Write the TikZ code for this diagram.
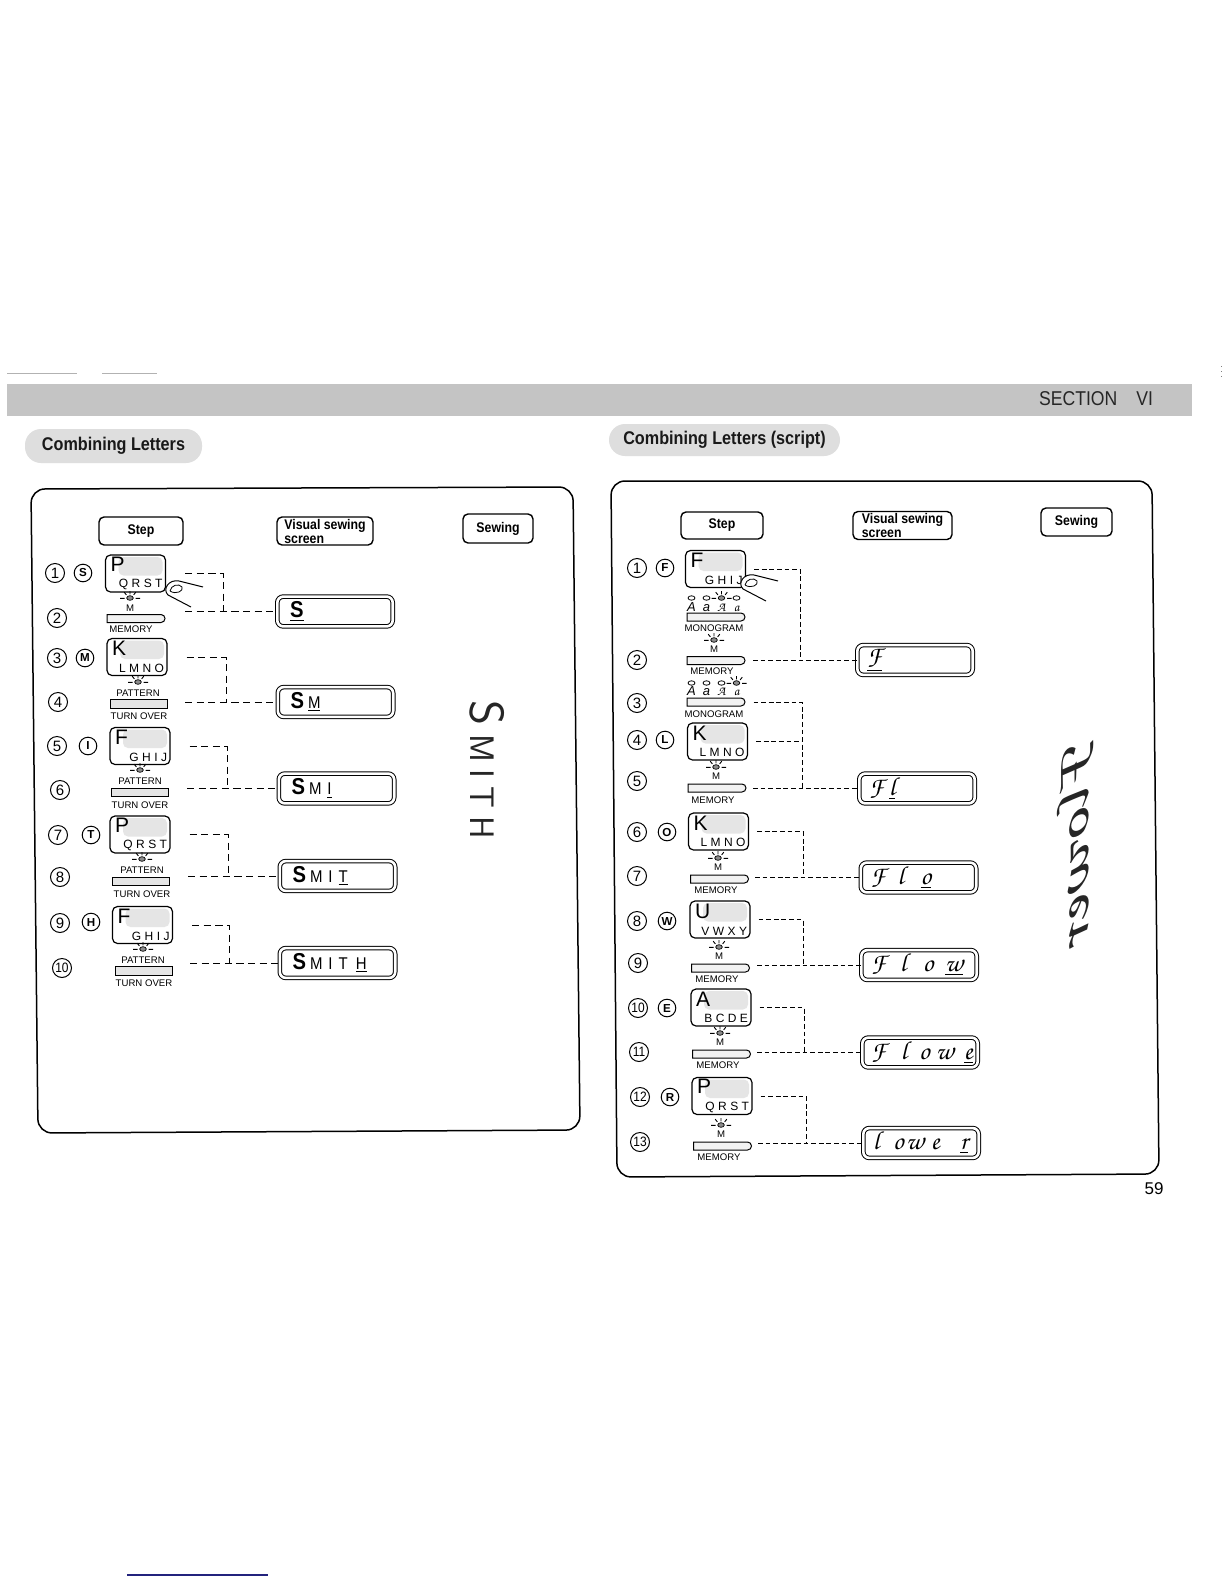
\documentclass[tikz,border=0pt]{standalone}
\usepackage{fontspec}
\setmainfont{Liberation Sans}
\newfontfamily\cond[FakeStretch=0.88]{Liberation Sans}
\newfontfamily\chorus{texgyrechorus-mediumitalic.otf}
\usetikzlibrary{shapes.misc}
\definecolor{navy}{RGB}{35,35,125}
\newcommand\gapk{\kern1.7pt\relax}
\newcommand\keytxt[2]{\parbox[c][15.5pt][s]{27pt}{\fontsize{10.5}{10}\selectfont\hspace*{1pt}#1\par\vfill\raggedleft\fontsize{6}{6}\selectfont #2\par}}
\newcommand\cellx[2]{\makebox[#1][l]{#2}}
\newcommand\cellc[1]{\makebox[7.5pt]{#1}}
\newcommand\bS{{\cond\bfseries\fontsize{11.5}{11.5}\selectfont S}}
\newcommand\scrl[1]{{\cond\fontsize{8.5}{8.5}\selectfont #1}}
\newcommand\scrp[1]{{\chorus\fontsize{13}{13}\selectfont #1}}
\tikzset{
  panel/.style={draw, line width=0.75pt, rounded corners=7pt},
  hdr/.style={draw, line width=0.7pt, rounded corners=2.5pt, inner sep=0pt, align=left,
    font=\cond\bfseries\fontsize{7}{7}\selectfont},
  numc/.style={draw, circle, line width=0.5pt, inner sep=0pt, minimum size=9.5pt,
    font=\fontsize{7.5}{7.5}\selectfont},
  numcc/.style={numc, font=\cond\fontsize{6.8}{6.8}\selectfont},
  letc/.style={draw, circle, line width=0.5pt, inner sep=0pt, minimum size=8.8pt,
    font=\bfseries\fontsize{5.8}{5.8}\selectfont},
  keybox/.style={draw, line width=0.6pt, rounded corners=2.5pt, minimum width=30pt,
    minimum height=18.5pt, inner sep=0pt,
    path picture={\fill[black!10] ([xshift=6.5pt,yshift=-1pt]path picture bounding box.north west)
      rectangle ([xshift=-1.5pt,yshift=-1pt]path picture bounding box.east);}},
  membar/.style={draw, line width=0.5pt, rounded rectangle, rounded rectangle left arc=none,
    minimum width=29pt, minimum height=4pt, inner sep=0pt, fill=black!5},
  patbar/.style={draw, line width=0.5pt, rectangle, minimum width=28.5pt, minimum height=4.3pt,
    inner sep=0pt, fill=black!10},
  lbl/.style={inner sep=0pt, font=\fontsize{4.8}{4.8}\selectfont},
  screen/.style={draw, double, double distance=1.3pt, line width=0.5pt, rounded corners=3pt,
    minimum width=57.7pt, minimum height=14.9pt, inner sep=0pt, text width=55pt, align=left},
  connL/.style={dash pattern=on 3.6pt off 2.2pt, line width=0.5pt},
  connR/.style={dash pattern=on 2.4pt off 1.4pt, line width=0.5pt},
  pill/.style={fill=black!13, rounded corners=8pt, inner sep=0pt, text=black!90,
    font=\cond\bfseries\fontsize{9.2}{9.2}\selectfont},
  lamp/.pic={\draw[fill=black!45, line width=0.35pt] (0,0) ellipse (3.3 and 2.3);
    \draw[line width=0.45pt] (-10,0.3)--(-5.5,0.3) (5.5,0.3)--(10,0.3) (0,-3.6)--(0,-6.8)
      (-3.6,-3.1)--(-5.8,-5.8) (3.6,-3.1)--(5.8,-5.8);},
  oval/.pic={\draw[line width=0.4pt] (0,0) ellipse (3.5 and 2.2);},
  finger/.pic={\draw[line width=0.5pt, fill=white] (37,-1) -- (13,-7) .. controls (3,-9) and (-4,1) .. (2,7) -- (25,19);
    \draw[line width=0.4pt] (4,3) .. controls (5,-3) and (13,-5) .. (16,-1) .. controls (18,3) and (10,7) .. (4,3);}
}
\begin{document}
\begin{tikzpicture}[x=0.5pt,y=-0.5pt]
\fill[white] (0,0) rectangle (1224,1584);
\useasboundingbox (0,0) rectangle (1224,1584);

% ---------- header band ----------
\draw[black!30, line width=0.3pt] (7,373) -- (77,373) (102,373) -- (157,373);
\draw[black!50, line width=0.5pt, dotted] (1221,366) -- (1221,378);
\fill[black!23] (7,384) rectangle (1192,416);
\node[inner sep=0pt, text=black!85, font=\cond\fontsize{10}{10}\selectfont] (sect) at (1096,398.5) {SECTION\hspace{9.5pt}VI};
\node[pill, minimum width=88.5pt, minimum height=17pt] (pillL) at (113.5,446) {Combining Letters};
\node[pill, minimum width=115.5pt, minimum height=16pt] (pillR) at (724.5,440) {Combining Letters (script)};

% ================= LEFT PANEL =================
\draw[panel] (300,488) -- (573,487) -- (580,1130) -- (38,1133) -- (31,489) -- cycle;
\node[hdr, minimum width=42pt, minimum height=14pt] (stepL) at (141,531) {Step};
\node[hdr, minimum width=48pt, minimum height=14pt] (visL) at (325,531) {Visual sewing\\screen};
\node[hdr, minimum width=35pt, minimum height=14.5pt] (sewL) at (498,528.5) {Sewing};

\node[numc] (n1) at (55,573) {1};   \node[letc] (c1) at (83,573) {S};
\node[numc] (n2) at (57,618) {2};
\node[numc] (n3) at (57,658) {3};   \node[letc] (c3) at (85,658) {M};
\node[numc] (n4) at (58,702) {4};
\node[numc] (n5) at (57,746) {5};   \node[letc] (c5) at (88,746) {I};
\node[numc] (n6) at (60,790) {6};
\node[numc] (n7) at (58,835) {7};   \node[letc] (c7) at (91,835) {T};
\node[numc] (n8) at (60,877) {8};
\node[numc] (n9) at (60,923) {9};   \node[letc] (c9) at (91,922) {H};
\node[numcc] (n10) at (62,968) {10};

\node[keybox] (kL1) at (135.5,573.5) {\keytxt{P}{Q\gapk R\gapk S\gapk T}};
\node[keybox] (kL3) at (137,657) {\keytxt{K}{L\gapk M\gapk N\gapk O}};
\node[keybox] (kL5) at (140,746) {\keytxt{F}{G\gapk H\gapk I\gapk J}};
\node[keybox] (kL7) at (140,834.5) {\keytxt{P}{Q\gapk R\gapk S\gapk T}};
\node[keybox] (kL9) at (142.5,925) {\keytxt{F}{G\gapk H\gapk I\gapk J}};
\pic at (166,588) {finger};

\pic at (130,598) {lamp};
\node[lbl] (tM2) at (130,608) {M};
\node[membar] (bL2) at (136,618.5) {};
\node[lbl] (tMem2) at (131,629) {MEMORY};

\pic at (138,682) {lamp};
\node[lbl] (tP4) at (138,693) {PATTERN};
\node[patbar] (bL4) at (138.5,704) {};
\node[lbl] (tT4) at (139,716) {TURN OVER};

\pic at (140,770) {lamp};
\node[lbl] (tP6) at (140,781) {PATTERN};
\node[patbar] (bL6) at (139.5,792.5) {};
\node[lbl] (tT6) at (140,805) {TURN OVER};

\pic at (142,859) {lamp};
\node[lbl] (tP8) at (142,870) {PATTERN};
\node[patbar] (bL8) at (140.5,881.5) {};
\node[lbl] (tT8) at (142,894) {TURN OVER};

\pic at (143,949) {lamp};
\node[lbl] (tP10) at (143,960) {PATTERN};
\node[patbar] (bL10) at (143.5,971) {};
\node[lbl] (tT10) at (144,983) {TURN OVER};

\node[screen] (sL1) at (335,611.5) {\hspace*{5pt}\underline{\bS}};
\node[screen] (sL2) at (335.5,702) {\hspace*{5pt}\bS\kern2pt\underline{\scrl{M}}};
\node[screen] (sL3) at (336.5,788.5) {\hspace*{5pt}\bS\kern2pt\scrl{M}\kern3pt\underline{\scrl{I}}};
\node[screen] (sL4) at (337.5,876) {\hspace*{5pt}\bS\kern2pt\scrl{M}\kern3pt\scrl{I}\kern3pt\underline{\scrl{T}}};
\node[screen] (sL5) at (337.5,963) {\hspace*{5pt}\bS\kern2pt\scrl{M}\kern3pt\scrl{I}\kern3pt\scrl{T}\kern4pt\underline{\scrl{H}}};

\coordinate (jL1) at (223,0); \coordinate (hL1) at (185,0);
\coordinate (jL2) at (226,0); \coordinate (hL2) at (185,0);
\coordinate (jL3) at (227,0); \coordinate (hL3) at (187,0);
\coordinate (jL4) at (228,0); \coordinate (hL4) at (188,0);
\coordinate (jL5) at (229,0); \coordinate (hL5) at (190,0);
\draw[connL] ([xshift=9.5pt]kL1.east) -| (jL1 |- sL1.west);
\draw[connL] (hL1 |- sL1.west) -- (sL1.west);
\draw[connL] ([xshift=9.5pt]kL3.east) -| (jL2 |- sL2.west);
\draw[connL] (hL2 |- sL2.west) -- (sL2.west);
\draw[connL] ([xshift=9.5pt]kL5.east) -| (jL3 |- sL3.west);
\draw[connL] (hL3 |- sL3.west) -- (sL3.west);
\draw[connL] ([xshift=9.5pt]kL7.east) -| (jL4 |- sL4.west);
\draw[connL] (hL4 |- sL4.west) -- (sL4.west);
\draw[connL] ([xshift=9.5pt]kL9.east) -| (jL5 |- sL5.west);
\draw[connL] (hL5 |- sL5.west) -- (sL5.west);

\node[rotate=-90, inner sep=0pt, text=black!85, font=\sffamily] (sewS) at (487,770)
  {{\fontsize{24}{24}\selectfont S}\kern4pt{\fontsize{17}{17}\selectfont M\kern4pt I\kern4pt T\kern4pt H}};

% ================= RIGHT PANEL =================
\draw[panel] (880,481) -- (1152,481) -- (1159,1174) -- (617,1177) -- (611,481) -- cycle;
\node[hdr, minimum width=41pt, minimum height=13.5pt] (stepR) at (722,525.5) {Step};
\node[hdr, minimum width=49.5pt, minimum height=14pt] (visR) at (902.5,525.5) {Visual sewing\\screen};
\node[hdr, minimum width=35.5pt, minimum height=14pt] (sewR) at (1076.5,522) {Sewing};

\node[numc] (m1) at (637,568) {1};   \node[letc] (d1) at (665,568) {F};
\node[numc] (m2) at (637,660) {2};
\node[numc] (m3) at (637,703) {3};
\node[numc] (m4) at (637,740) {4};   \node[letc] (d4) at (665,740) {L};
\node[numc] (m5) at (637,781) {5};
\node[numc] (m6) at (637,832) {6};   \node[letc] (d6) at (667,832) {O};
\node[numc] (m7) at (637,876) {7};
\node[numc] (m8) at (637,921) {8};   \node[letc] (d8) at (667,921) {W};
\node[numc] (m9) at (638,963) {9};
\node[numcc] (m10) at (638,1008) {10}; \node[letc] (d10) at (667,1008) {E};
\node[numcc] (m11) at (639,1052) {11};
\node[numcc] (m12) at (640,1097) {12}; \node[letc] (d12) at (670,1097) {R};
\node[numcc] (m13) at (640,1142) {13};

\node[keybox] (kR1) at (715.5,569) {\keytxt{F}{G\gapk H\gapk I\gapk J}};
\node[keybox] (kR4) at (717.5,741.5) {\keytxt{K}{L\gapk M\gapk N\gapk O}};
\node[keybox] (kR6) at (718.5,831.5) {\keytxt{K}{L\gapk M\gapk N\gapk O}};
\node[keybox] (kR8) at (720,919.5) {\keytxt{U}{V\gapk W\gapk X\gapk Y}};
\node[keybox] (kR10) at (721,1007.5) {\keytxt{A}{B\gapk C\gapk D\gapk E}};
\node[keybox] (kR12) at (722,1096) {\keytxt{P}{Q\gapk R\gapk S\gapk T}};
\pic at (741,582) {finger};

% monogram row 1
\pic at (691.5,598) {oval}; \pic at (706.5,598) {oval}; \pic at (721.5,598) {lamp}; \pic at (736.5,598) {oval};
\node[inner sep=0pt, font=\fontsize{6.5}{6.5}\selectfont] (modeR1) at (714,607)
  {\cellc{\itshape A}\cellc{\itshape a}\cellc{\chorus A}\cellc{\chorus a}};
\node[membar] (bR1m) at (716,617) {};
\node[lbl] (tMoR1) at (714,628) {MONOGRAM};
% memory row 2
\pic at (714,640) {lamp};
\node[lbl] (tMR2) at (714,649) {M};
\node[membar] (bR2) at (716,660.5) {};
\node[lbl] (tMemR2) at (712,671) {MEMORY};
% monogram row 3
\pic at (691.5,683) {oval}; \pic at (706.5,683) {oval}; \pic at (721.5,683) {oval}; \pic at (736.5,683) {lamp};
\node[inner sep=0pt, font=\fontsize{6.5}{6.5}\selectfont] (modeR3) at (714,691.5)
  {\cellc{\itshape A}\cellc{\itshape a}\cellc{\chorus A}\cellc{\chorus a}};
\node[membar] (bR3m) at (716,702) {};
\node[lbl] (tMoR3) at (714,714) {MONOGRAM};
% memory rows
\pic at (716,767) {lamp};  \node[lbl] (tMR5) at (716,776) {M};
\node[membar] (bR5) at (717,788) {};  \node[lbl] (tMemR5) at (713,800) {MEMORY};
\pic at (718,858) {lamp};  \node[lbl] (tMR7) at (718,867) {M};
\node[membar] (bR7) at (719.5,879) {};  \node[lbl] (tMemR7) at (716,890) {MEMORY};
\pic at (719,947) {lamp};  \node[lbl] (tMR9) at (719,956) {M};
\node[membar] (bR9) at (720.5,968) {};  \node[lbl] (tMemR9) at (717,979) {MEMORY};
\pic at (720,1033) {lamp}; \node[lbl] (tMR11) at (720,1042) {M};
\node[membar] (bR11) at (721.5,1054) {}; \node[lbl] (tMemR11) at (718,1065) {MEMORY};
\pic at (721,1125) {lamp}; \node[lbl] (tMR13) at (721,1134) {M};
\node[membar] (bR13) at (722.5,1146) {}; \node[lbl] (tMemR13) at (719,1157) {MEMORY};

% screens right
\node[screen] (sR1) at (915,660) {\hspace*{3.5pt}\underline{\scrp{F}}};
\node[screen] (sR2) at (917,788.5) {\hspace*{3.5pt}\cellx{10pt}{\scrp{F}}\underline{\scrp{l}}};
\node[screen] (sR3) at (918.5,877.5) {\hspace*{3.5pt}\cellx{13.5pt}{\scrp{F}}\cellx{11.5pt}{\scrp{l}}\underline{\scrp{o}}};
\node[screen] (sR4) at (919,965) {\hspace*{3.5pt}\cellx{14.5pt}{\scrp{F}}\cellx{11.5pt}{\scrp{l}}\cellx{11pt}{\scrp{o}}\underline{\scrp{w}}};
\node[screen] (sR5) at (920,1052.5) {\hspace*{3pt}\cellx{15pt}{\scrp{F}}\cellx{9pt}{\scrp{l}}\cellx{8.5pt}{\scrp{o}}\cellx{14pt}{\scrp{w}}\underline{\scrp{e}}};
\node[screen] (sR6) at (921,1143) {\hspace*{3.5pt}\cellx{10pt}{\scrp{l}}\cellx{6.5pt}{\scrp{o}}\cellx{12.5pt}{\scrp{w}}\cellx{14.5pt}{\scrp{e}}\underline{\scrp{r}}};

\coordinate (jR1) at (800,0); \coordinate (hR1) at (753,0);
\coordinate (jR2) at (802,0); \coordinate (hR2) at (753,0);
\coordinate (jR3) at (803,0); \coordinate (hR3) at (755,0);
\coordinate (jR4) at (803,0); \coordinate (hR4) at (757,0);
\coordinate (jR5) at (804,0); \coordinate (hR5) at (757,0);
\coordinate (jR6) at (806,0); \coordinate (hR6) at (758,0);
\draw[connR] ([xshift=4pt]kR1.east) -| (jR1 |- sR1.west);
\draw[connR] (hR1 |- sR1.west) -- (sR1.west);
\draw[connR] ([xshift=4pt]bR3m.east) -| (jR2 |- sR2.west);
\draw[connR] ([xshift=4pt]kR4.east) -- (jR2 |- kR4.east);
\draw[connR] (hR2 |- sR2.west) -- (sR2.west);
\draw[connR] ([xshift=4pt]kR6.east) -| (jR3 |- sR3.west);
\draw[connR] (hR3 |- sR3.west) -- (sR3.west);
\draw[connR] ([xshift=4pt]kR8.east) -| (jR4 |- sR4.west);
\draw[connR] (hR4 |- sR4.west) -- (sR4.west);
\draw[connR] ([xshift=4pt]kR10.east) -| (jR5 |- sR5.west);
\draw[connR] (hR5 |- sR5.west) -- (sR5.west);
\draw[connR] ([xshift=4pt]kR12.east) -| (jR6 |- sR6.west);
\draw[connR] (hR6 |- sR6.west) -- (sR6.west);

\node[xscale=-1, rotate=-90, xscale=1.75, inner sep=0pt, text=black!85,
  font=\chorus\fontsize{23}{23}\selectfont] (sewF) at (1076,838) {Flower};

% page number and bottom rule
\node[inner sep=0pt, font=\fontsize{8.5}{8.5}\selectfont] (pg) at (1154,1189) {59};
\draw[navy, line width=0.8pt] (127,1575) -- (268,1575);
\end{tikzpicture}
\end{document}
